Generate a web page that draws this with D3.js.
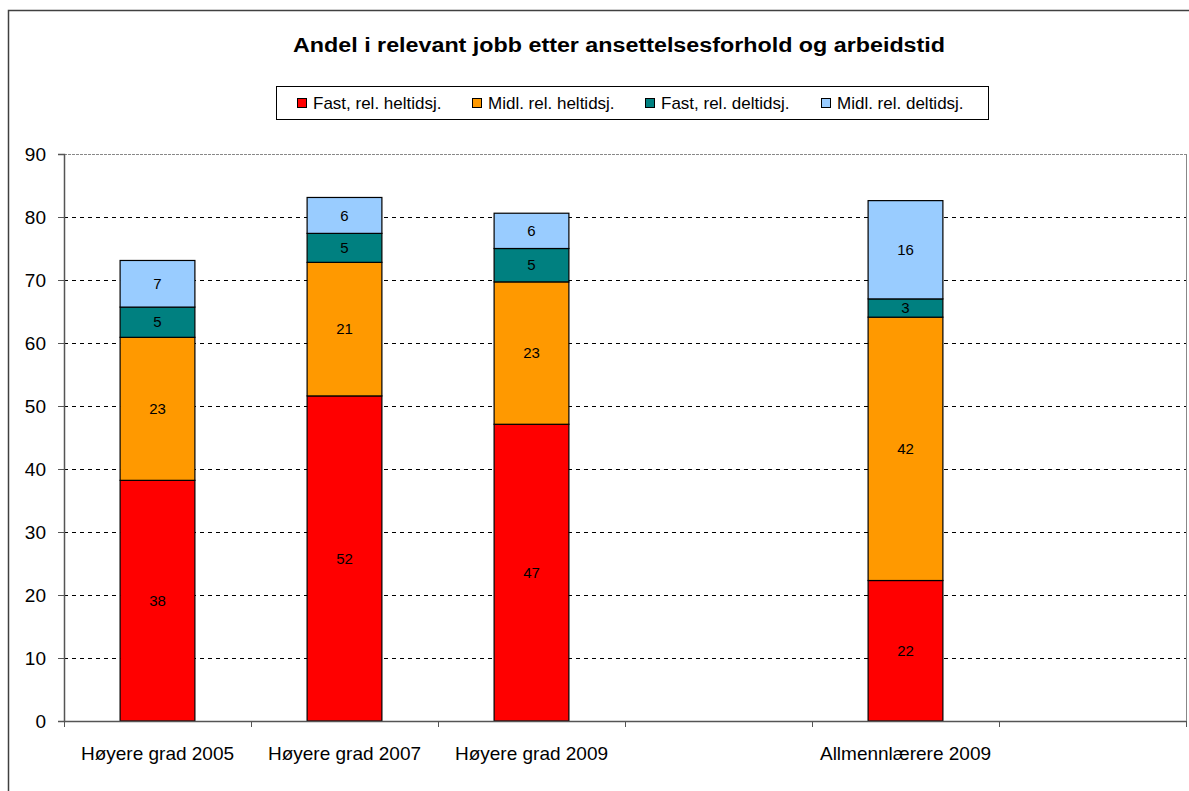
<!DOCTYPE html>
<html>
<head>
<meta charset="utf-8">
<title>Andel i relevant jobb</title>
<style>
  body { margin: 0; background: #fff; }
  svg { font-family: "Liberation Sans", Arial, sans-serif; }
</style>
<script src="https://d3js.org/d3.v7.min.js"></script>
</head>
<body>
<svg width="1189" height="791"></svg>
<script>
// data
var slots = ["Høyere grad 2005", "Høyere grad 2007", "Høyere grad 2009", "", "Allmennlærere 2009", ""];
var seriesNames = ["Fast, rel. heltidsj.", "Midl. rel. heltidsj.", "Fast, rel. deltidsj.", "Midl. rel. deltidsj."];
var fastHeltid = [38.2, 51.6, 47.1, null, 22.3, null];
var midlHeltid = [22.7, 21.2, 22.6, null, 41.8, null];
var fastDeltid = [4.8, 4.6, 5.3, null, 2.9, null];
var midlDeltid = [7.4, 5.7, 5.6, null, 15.6, null];
var yTicks = [0, 10, 20, 30, 40, 50, 60, 70, 80, 90];
var colors = ["#ff0000", "#ff9900", "#008080", "#99ccff"];

var svg = d3.select("svg");
var plotLeft = 64, plotRight = 1186, plotTop = 154, plotBottom = 721;

// outer frame
svg.append("rect")
   .attr("x", 8.5).attr("y", 10.5).attr("width", 1250).attr("height", 850)
   .attr("fill", "none").attr("stroke", "#404040").attr("stroke-width", 1.5);

svg.append("text")
   .attr("x", 619).attr("y", 52)
   .attr("text-anchor", "middle")
   .attr("font-size", 20).attr("font-weight", "bold")
   .attr("textLength", 652).attr("lengthAdjust", "spacingAndGlyphs")
   .text("Andel i relevant jobb etter ansettelsesforhold og arbeidstid");

var x = d3.scaleBand().domain(d3.range(slots.length)).range([plotLeft, plotRight])
          .paddingInner(0.6).paddingOuter(0.3);
var y = d3.scaleLinear().domain([0, 90]).range([plotBottom, plotTop]);

// gridlines
svg.append("g").selectAll("line")
   .data(yTicks.filter(function(d) { return d > 0 && d < 90; }))
   .enter().append("line")
   .attr("x1", plotLeft).attr("x2", plotRight)
   .attr("y1", function(d) { return Math.round(y(d)) + 0.5; })
   .attr("y2", function(d) { return Math.round(y(d)) + 0.5; })
   .attr("stroke", "#000").attr("stroke-dasharray", "4,4");

// plot area border (top and right)
svg.append("line").attr("x1", plotLeft).attr("x2", plotRight).attr("y1", plotTop + 0.5).attr("y2", plotTop + 0.5)
   .attr("stroke", "#888").attr("stroke-dasharray", "3,1");
svg.append("line").attr("x1", plotRight + 0.5).attr("x2", plotRight + 0.5).attr("y1", plotTop).attr("y2", plotBottom)
   .attr("stroke", "#888");

// stacked bars
var rows = slots.map(function(s, i) {
  return { i: i, vals: [fastHeltid[i], midlHeltid[i], fastDeltid[i], midlDeltid[i]] };
}).filter(function(r) { return r.vals[0] != null; });

var tableRows = rows.map(function(r) {
  var o = { i: r.i };
  seriesNames.forEach(function(n, k) { o[n] = r.vals[k]; });
  return o;
});
var stacked = d3.stack().keys(seriesNames)(tableRows);

var layers = svg.append("g").selectAll("g")
   .data(stacked).enter().append("g")
   .attr("fill", function(d, k) { return colors[k]; });

layers.selectAll("rect")
   .data(function(d) { return d; })
   .enter().append("rect")
   .attr("x", function(d) { return x(d.data.i); })
   .attr("width", x.bandwidth())
   .attr("y", function(d) { return y(d[1]); })
   .attr("height", function(d) { return y(d[0]) - y(d[1]); })
   .attr("stroke", "#000").attr("stroke-width", 1.2);

layers.selectAll("text")
   .data(function(d) { return d; })
   .enter().append("text")
   .attr("x", function(d) { return x(d.data.i) + x.bandwidth() / 2; })
   .attr("y", function(d) { return (y(d[0]) + y(d[1])) / 2; })
   .attr("dy", "0.35em")
   .attr("text-anchor", "middle")
   .attr("font-size", 15).attr("fill", "#000")
   .text(function(d) { return Math.round(d[1] - d[0]); });

// y axis
var yAxis = svg.append("g")
   .attr("transform", "translate(" + plotLeft + ",0)")
   .call(d3.axisLeft(y).tickValues(yTicks).tickSize(6).tickPadding(12));
yAxis.select(".domain").attr("stroke", "#555").attr("stroke-width", 1.5);
yAxis.selectAll(".tick line").attr("stroke", "#555");
yAxis.selectAll("text").attr("font-size", 19).attr("fill", "#000")
   .attr("font-family", "Liberation Sans, Arial, sans-serif");

// x axis: baseline, ticks at band boundaries, labels under bands
var step = x.step();
var x0 = x(0) - x.paddingOuter() * step;
svg.append("line").attr("x1", plotLeft).attr("x2", plotRight).attr("y1", plotBottom + 0.5).attr("y2", plotBottom + 0.5)
   .attr("stroke", "#555").attr("stroke-width", 1.5);
svg.append("g").selectAll("line")
   .data(d3.range(slots.length + 1))
   .enter().append("line")
   .attr("x1", function(i) { return Math.round(x0 + i * step) + 0.5; })
   .attr("x2", function(i) { return Math.round(x0 + i * step) + 0.5; })
   .attr("y1", plotBottom).attr("y2", plotBottom + 6)
   .attr("stroke", "#555");
svg.append("g").selectAll("text")
   .data(slots.map(function(s, i) { return { s: s, i: i }; }).filter(function(d) { return d.s; }))
   .enter().append("text")
   .attr("x", function(d) { return x(d.i) + x.bandwidth() / 2; })
   .attr("y", 760)
   .attr("text-anchor", "middle")
   .attr("font-size", 19)
   .text(function(d) { return d.s; });

// legend
var legend = svg.append("g");
legend.append("rect").attr("x", 276.5).attr("y", 86.5).attr("width", 712).attr("height", 33)
   .attr("fill", "#fff").attr("stroke", "#000");
var legendX = [302, 477, 650, 826];
var items = legend.selectAll("g.item").data(seriesNames).enter().append("g")
   .attr("class", "item")
   .attr("transform", function(d, k) { return "translate(" + legendX[k] + ",103)"; });
items.append("rect").attr("x", -4.5).attr("y", -4.5).attr("width", 9).attr("height", 9)
   .attr("fill", function(d, k) { return colors[k]; }).attr("stroke", "#000");
items.append("text").attr("x", 11).attr("dy", "0.35em").attr("font-size", 17)
   .text(function(d) { return d; });
</script>
</body>
</html>
